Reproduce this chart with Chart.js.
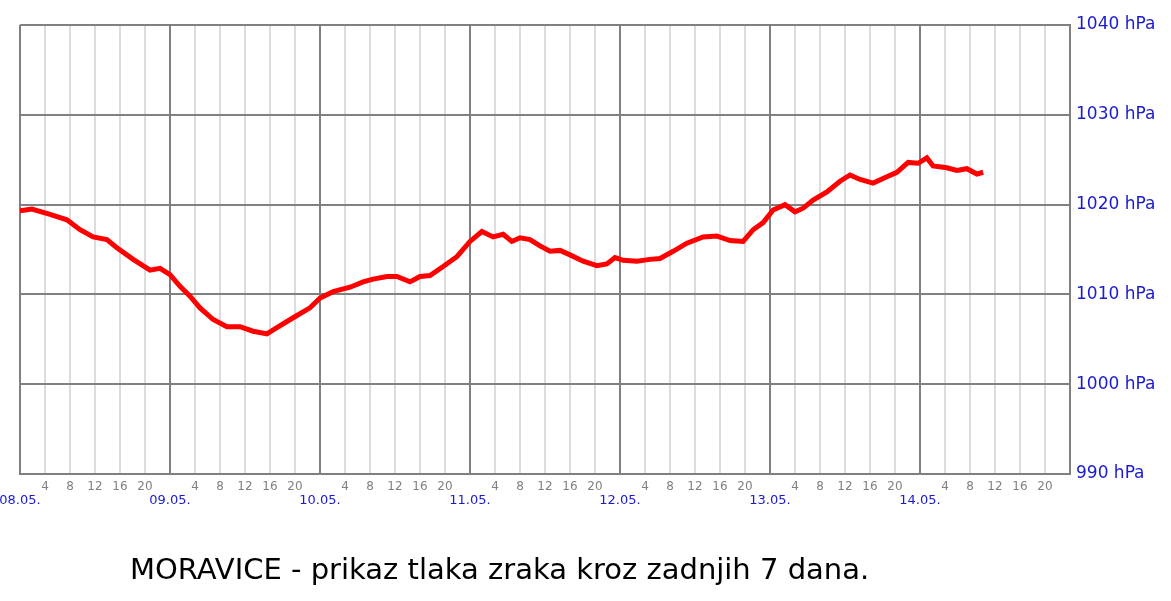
<!DOCTYPE html>
<html>
<head>
<meta charset="utf-8">
<script src="https://cdn.jsdelivr.net/npm/chart.js@4"></script>
<style>
  html, body { margin: 0; padding: 0; background: #fff; }
  #wrap { position: relative; width: 1171px; height: 601px; }
  #title {
    position: absolute; left: 130px; top: 552px;
    font-family: "Comic Sans MS", "DejaVu Sans", sans-serif;
    font-size: 29px; color: #000; white-space: nowrap;
  }
</style>
</head>
<body>
<div id="wrap">
  <canvas id="pressureChart" width="1171" height="601"></canvas>
  <div id="title">MORAVICE - prikaz tlaka zraka kroz zadnjih 7 dana.</div>
</div>
<script>
// hours since 08.05. 00:00
var hours = [0, 1.9, 4.8, 7.5, 9.6, 11.7, 13.9, 15.5, 18.1, 20.8, 22.4, 24,
    25.6, 27.2, 28.8, 30.9, 33.1, 35.2, 37.3, 39.5, 41.1, 43.7, 46.4, 48,
    50.1, 52.8, 54.9, 56.5, 58.7, 60.3, 62.4, 64, 65.6, 67.7, 69.9, 72,
    73.9, 75.7, 77.3, 78.7, 80, 81.6, 83.2, 84.8, 86.4, 88, 90.1, 92.3,
    93.9, 95.2, 96.5, 98.7, 100.8, 102.4, 104.5, 106.7, 109.3, 111.5, 113.6, 115.7,
    117.3, 118.9, 120.5, 122.4, 124, 125.3, 126.9, 129.1, 131.2, 132.8, 134.4, 136.5,
    138.7, 140.3, 142.1, 143.7, 145.1, 146.1, 148.3, 149.9, 151.5, 153.1, 154.1];
// pressure in hPa
var pressure = [1019.3, 1019.5, 1018.9, 1018.3, 1017.2, 1016.4, 1016.1, 1015.2, 1013.9, 1012.7, 1012.9, 1012.2,
    1010.9, 1009.8, 1008.5, 1007.2, 1006.4, 1006.4, 1005.9, 1005.6, 1006.3, 1007.4, 1008.5, 1009.6,
    1010.3, 1010.8, 1011.4, 1011.7, 1012.0, 1012.0, 1011.4, 1012.0, 1012.1, 1013.1, 1014.2, 1015.9,
    1017.0, 1016.4, 1016.7, 1015.9, 1016.3, 1016.1, 1015.4, 1014.8, 1014.9, 1014.4, 1013.7, 1013.2,
    1013.4, 1014.1, 1013.8, 1013.7, 1013.9, 1014.0, 1014.8, 1015.7, 1016.4, 1016.5, 1016.0, 1015.9,
    1017.2, 1018.0, 1019.4, 1020.0, 1019.2, 1019.6, 1020.5, 1021.4, 1022.6, 1023.3, 1022.8, 1022.4,
    1023.1, 1023.6, 1024.7, 1024.6, 1025.2, 1024.3, 1024.1, 1023.8, 1024.0, 1023.4, 1023.6];
var days = ['08.05.', '09.05.', '10.05.', '11.05.', '12.05.', '13.05.', '14.05.'];
var pressureTicks = [990, 1000, 1010, 1020, 1030, 1040];

var points = hours.map(function (h, i) { return { x: h, y: pressure[i] }; });

document.addEventListener('DOMContentLoaded', function () {
    var ctx = document.getElementById('pressureChart').getContext('2d');
    new Chart(ctx, {
        type: 'line',
        data: {
            datasets: [{
                label: 'Tlak zraka',
                data: points,
                borderColor: '#ff0000',
                borderWidth: 5,
                pointRadius: 0,
                tension: 0,
                fill: false
            }]
        },
        options: {
            responsive: false,
            animation: false,
            layout: { padding: { left: 20, top: 25, right: 0, bottom: 0 } },
            plugins: { legend: { display: false }, tooltip: { enabled: false } },
            scales: {
                x: {
                    type: 'linear',
                    min: 0,
                    max: 168,
                    afterFit: function (s) { s.height = 127; s.paddingLeft = 0; s.paddingRight = 0; },
                    afterBuildTicks: function (s) {
                        var t = [];
                        for (var v = 0; v <= 168; v += 4) t.push({ value: v });
                        s.ticks = t;
                    },
                    border: { color: '#808080', width: 2 },
                    grid: {
                        drawTicks: false,
                        lineWidth: 2,
                        color: function (c) { return c.tick && c.tick.value % 24 === 0 ? '#808080' : '#dcdcdc'; }
                    },
                    ticks: {
                        autoSkip: false,
                        maxRotation: 0,
                        padding: 6,
                        color: function (c) { return c.tick.value % 24 === 0 ? '#1a1ad0' : '#808080'; },
                        font: function (c) {
                            var day = c.tick && c.tick.value % 24 === 0;
                            return { family: 'Tahoma, "DejaVu Sans", sans-serif', size: day ? 13 : 12, lineHeight: day ? 1.05 : 1.2 };
                        },
                        callback: function (v) {
                            if (v % 24 === 0) {
                                var d = days[v / 24];
                                return d ? ['', d] : '';
                            }
                            return String(v % 24);
                        }
                    }
                },
                y: {
                    position: 'right',
                    min: 990,
                    max: 1040,
                    afterFit: function (s) { s.width = 101; },
                    afterBuildTicks: function (s) {
                        s.ticks = pressureTicks.map(function (v) { return { value: v }; });
                    },
                    border: { color: '#808080', width: 2 },
                    grid: { drawTicks: false, lineWidth: 2, color: '#808080' },
                    ticks: {
                        padding: 6,
                        color: '#1a1ad0',
                        font: { family: '"Comic Sans MS", "DejaVu Sans", sans-serif', size: 17 },
                        callback: function (v) { return v + ' hPa'; }
                    }
                }
            }
        }
    });
});
</script>
</body>
</html>
